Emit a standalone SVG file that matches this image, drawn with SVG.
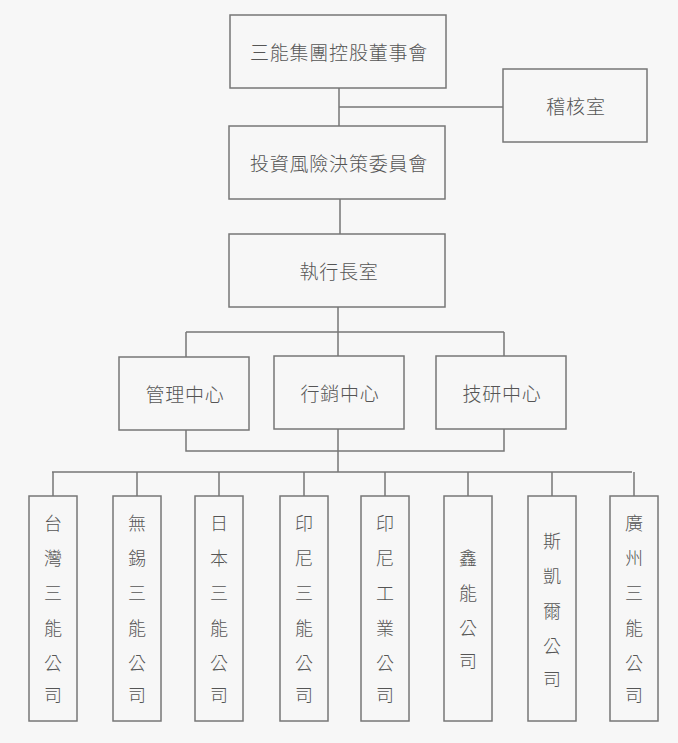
<svg xmlns="http://www.w3.org/2000/svg" width="678" height="743" viewBox="0 0 678 743">
<style>
.b{fill:#f7f7f7;stroke:#777;stroke-width:1.5}
.t{font-family:"Noto Sans CJK TC","Noto Sans CJK SC",sans-serif;font-size:19px;font-weight:300;letter-spacing:0.8px;fill:#555;text-anchor:middle;dominant-baseline:central}
.v{font-family:"Noto Sans CJK TC","Noto Sans CJK SC",sans-serif;font-size:18px;font-weight:300;fill:#555;text-anchor:middle;dominant-baseline:central}
.c{fill:none;stroke:#777;stroke-width:1.5}
</style>
<rect width="678" height="743" fill="#f7f7f7"/>
<g id="connectors">
<path class="c" d="M339 88V126M339 107H503M340 199V234M338 307V332M186 332H504M186 332V357M338 332V356M504 332V356M186 430V451H504V429M338 429V472M52 472H632"/>
<path class="c" d="M53 472V496M137 472V496M219 472V496M304 472V496M385 472V496M468 472V496M552 472V496M634 472V496"/>
</g>
<g id="board"><rect class="b" x="230" y="15" width="216" height="73"/><text class="t" x="339" y="51">三能集團控股董事會</text></g>
<g id="audit"><rect class="b" x="503" y="69" width="144" height="73"/><text class="t" x="576" y="105">稽核室</text></g>
<g id="risk"><rect class="b" x="229" y="126" width="216" height="73"/><text class="t" x="339" y="162">投資風險決策委員會</text></g>
<g id="ceo"><rect class="b" x="229" y="234" width="216" height="73"/><text class="t" x="339" y="270">執行長室</text></g>
<g id="mgmt"><rect class="b" x="119" y="357" width="130" height="73"/><text class="t" x="185" y="393">管理中心</text></g>
<g id="mkt"><rect class="b" x="274" y="356" width="130" height="73"/><text class="t" x="340" y="392">行銷中心</text></g>
<g id="tech"><rect class="b" x="436" y="356" width="130" height="73"/><text class="t" x="502" y="392">技研中心</text></g>
<g id="c1"><rect class="b" x="29" y="496" width="48" height="225"/><text class="v" x="53" y="522">台</text><text class="v" x="53" y="557">灣</text><text class="v" x="53" y="592">三</text><text class="v" x="53" y="627">能</text><text class="v" x="53" y="662">公</text><text class="v" x="53" y="694">司</text></g>
<g id="c2"><rect class="b" x="113" y="496" width="48" height="225"/><text class="v" x="137" y="522">無</text><text class="v" x="137" y="557">錫</text><text class="v" x="137" y="592">三</text><text class="v" x="137" y="627">能</text><text class="v" x="137" y="662">公</text><text class="v" x="137" y="694">司</text></g>
<g id="c3"><rect class="b" x="195" y="496" width="48" height="225"/><text class="v" x="219" y="522">日</text><text class="v" x="219" y="557">本</text><text class="v" x="219" y="592">三</text><text class="v" x="219" y="627">能</text><text class="v" x="219" y="662">公</text><text class="v" x="219" y="694">司</text></g>
<g id="c4"><rect class="b" x="280" y="496" width="48" height="225"/><text class="v" x="304" y="522">印</text><text class="v" x="304" y="557">尼</text><text class="v" x="304" y="592">三</text><text class="v" x="304" y="627">能</text><text class="v" x="304" y="662">公</text><text class="v" x="304" y="694">司</text></g>
<g id="c5"><rect class="b" x="361" y="496" width="48" height="225"/><text class="v" x="385" y="522">印</text><text class="v" x="385" y="557">尼</text><text class="v" x="385" y="592">工</text><text class="v" x="385" y="627">業</text><text class="v" x="385" y="662">公</text><text class="v" x="385" y="694">司</text></g>
<g id="c6"><rect class="b" x="444" y="496" width="48" height="225"/><text class="v" x="468" y="557">鑫</text><text class="v" x="468" y="592">能</text><text class="v" x="468" y="627">公</text><text class="v" x="468" y="660">司</text></g>
<g id="c7"><rect class="b" x="528" y="496" width="48" height="225"/><text class="v" x="552" y="540">斯</text><text class="v" x="552" y="575">凱</text><text class="v" x="552" y="610">爾</text><text class="v" x="552" y="645">公</text><text class="v" x="552" y="678">司</text></g>
<g id="c8"><rect class="b" x="610" y="496" width="48" height="225"/><text class="v" x="634" y="522">廣</text><text class="v" x="634" y="557">州</text><text class="v" x="634" y="592">三</text><text class="v" x="634" y="627">能</text><text class="v" x="634" y="662">公</text><text class="v" x="634" y="694">司</text></g>
</svg>
